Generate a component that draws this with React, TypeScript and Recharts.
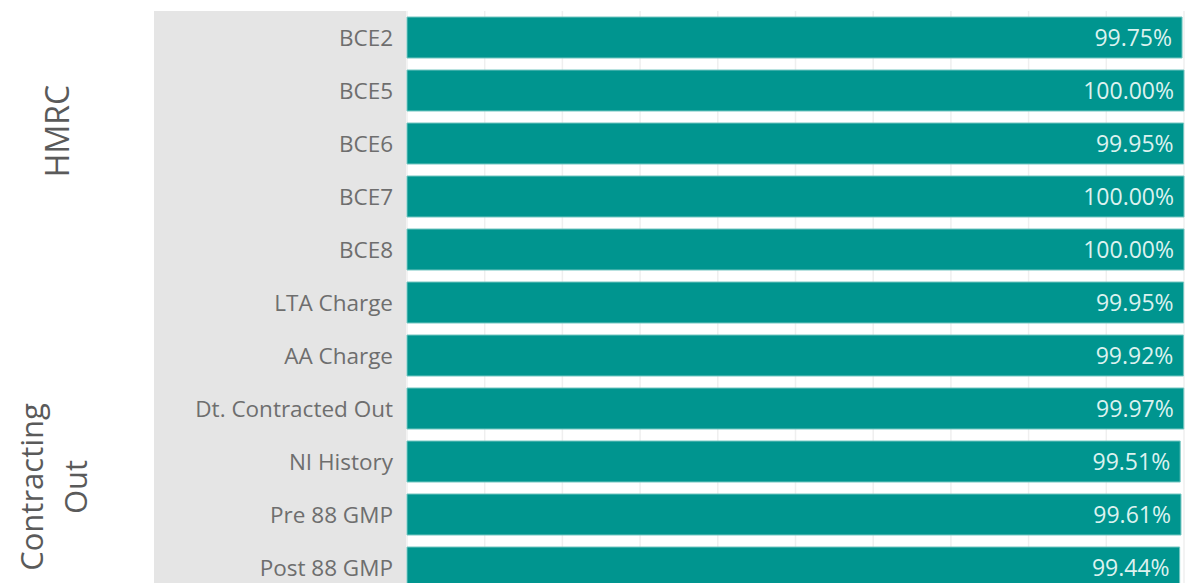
import React from 'react';
import { BarChart, Bar, XAxis, YAxis, CartesianGrid, LabelList } from 'recharts';

const categories = [
  'BCE2', 'BCE5', 'BCE6', 'BCE7', 'BCE8', 'LTA Charge', 'AA Charge',
  'Dt. Contracted Out', 'NI History', 'Pre 88 GMP', 'Post 88 GMP',
];
const rates = [0.9975, 1.0, 0.9995, 1.0, 1.0, 0.9995, 0.9992, 0.9997, 0.9951, 0.9961, 0.9944];
const xTicks = [0, 0.1, 0.2, 0.3, 0.4, 0.5, 0.6, 0.7, 0.8, 0.9, 1];

const data = categories.map((name, i) => ({ name, rate: rates[i] }));

const FONT = '"Open Sans", "Noto Sans", sans-serif';
const TEAL = '#00958f';

const fmt = (v: any) => `${(Number(v) * 100).toFixed(2)}%`;

export default function App() {
  return (
    <div style={{ position: 'relative', width: 1187, height: 583, overflow: 'hidden', fontFamily: FONT }}>
      <style>{`html,body{margin:0;padding:0;overflow:hidden;background:#fff}`}</style>
      {/* grey row-header panel */}
      <div style={{ position: 'absolute', left: 154, top: 11, width: 252, height: 600, background: '#e5e5e5' }} />
      {/* group labels */}
      <div
        style={{
          position: 'absolute', left: 57, top: 131, transform: 'translate(-50%, -50%) rotate(-90deg)',
          fontSize: 32, color: '#5a5a5a', whiteSpace: 'nowrap', lineHeight: 1,
        }}
      >
        HMRC
      </div>
      <div
        style={{
          position: 'absolute', left: 53, top: 487, transform: 'translate(-50%, -50%) rotate(-90deg)',
          fontSize: 31, color: '#5a5a5a', whiteSpace: 'nowrap', lineHeight: '44px', textAlign: 'center',
        }}
      >
        Contracting<br />Out
      </div>
      <div style={{ position: 'absolute', left: 0, top: 0 }}>
        <BarChart
          width={1187}
          height={594}
          data={data}
          layout="vertical"
          margin={{ top: 11, right: 3, bottom: 0, left: 155 }}
          barSize={41}
        >
          <CartesianGrid horizontal={false} stroke="#efefef" strokeWidth={1.5} />
          <XAxis type="number" domain={[0, 1]} ticks={xTicks} hide />
          <YAxis
            type="category"
            dataKey="name"
            width={252}
            axisLine={false}
            tickLine={false}
            tickSize={0}
            tickMargin={14}
            interval={0}
            tick={{ fill: '#6e6e6e', fontSize: 22.5, fontFamily: FONT, dy: 1 }}
          />
          <Bar dataKey="rate" fill={TEAL} stroke="#74c6c1" strokeWidth={1} isAnimationActive={false}>
            <LabelList
              dataKey="rate"
              position="insideRight"
              offset={10}
              formatter={fmt}
              style={{ fill: '#dcf2ef', fontSize: 23, fontFamily: FONT }}
            />
          </Bar>
        </BarChart>
      </div>
    </div>
  );
}
